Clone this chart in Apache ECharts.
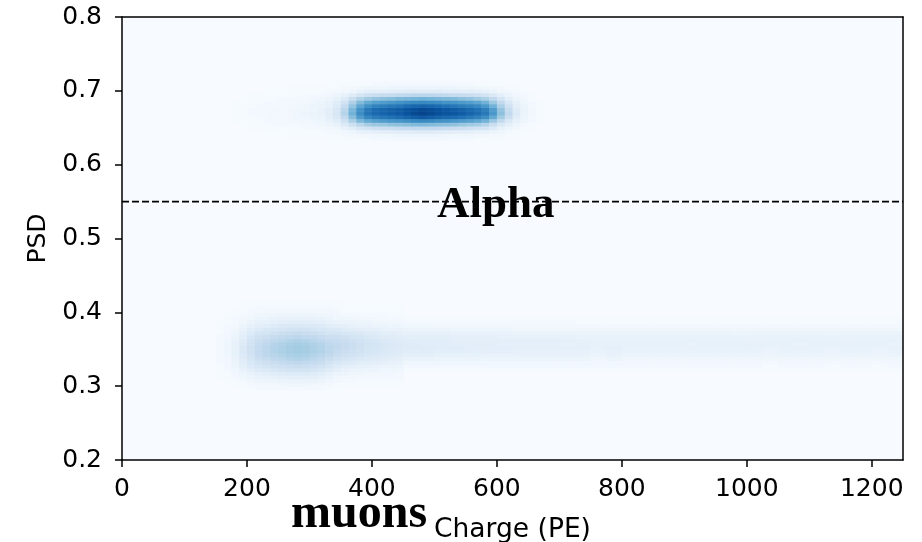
<!DOCTYPE html>
<html><head><meta charset="utf-8">
<script src="https://cdn.jsdelivr.net/npm/echarts@6/dist/echarts.min.js"></script>
<style>html,body{margin:0;padding:0;background:#fff}#c{width:922px;height:542px}</style>
</head><body><div id="c"></div>
<script>
// ---- axis ticks ----
const xTicks = [0, 200, 400, 600, 800, 1000, 1200];
const yTicks = [0.2, 0.3, 0.4, 0.5, 0.6, 0.7, 0.8];
const cutPSD = [0.55, 0.55];
const cutCharge = [0, 1250];

// ---- 2D histogram: alpha blob (x bins from 175 PE, 12.5 PE wide; y bins from 0.6325, 0.005 tall) ----
const alphaX0 = 175, alphaDX = 12.5, alphaY0 = 0.6325, alphaDY = 0.005;
const alphaRows = [
 [0,0,0,0,0,0,0,0,0,0,0,0,1,1,1,1,1,1,2,2,2,2,2,2,2,2,2,2,2,2,2,1,1,1,1,0,0,0,0,0],
 [0,0,0,0,0,0,0,1,1,1,1,1,1,1,2,2,3,3,4,4,4,5,5,5,5,5,5,4,4,4,4,3,3,2,2,1,1,0,0,0],
 [0,0,0,0,1,1,1,1,1,1,1,1,2,2,3,5,7,8,9,10,10,11,11,12,12,12,11,11,10,10,9,8,7,5,4,2,1,1,0,0],
 [0,0,1,1,1,1,1,1,1,2,2,2,3,4,7,11,16,19,21,22,23,24,25,26,26,26,25,24,23,22,21,19,17,13,8,5,3,1,1,0],
 [0,1,1,1,1,2,2,2,2,3,3,4,5,8,13,21,29,35,38,39,41,42,43,44,45,44,43,42,41,39,37,35,30,23,15,9,5,2,1,0],
 [1,1,1,1,2,2,2,3,3,3,4,5,7,11,20,33,45,52,56,58,60,61,63,65,66,65,63,62,60,58,56,53,48,38,26,15,8,4,2,1],
 [1,1,1,2,2,3,3,3,4,4,5,6,9,14,26,43,58,67,71,73,75,77,80,82,84,82,80,78,77,75,72,69,64,52,36,22,11,5,2,1],
 [1,1,2,2,2,3,3,3,4,5,6,7,10,16,30,48,64,74,78,80,82,84,87,90,92,90,88,86,85,83,80,77,72,60,42,26,13,6,3,1],
 [1,1,2,2,2,3,3,3,4,4,5,7,10,15,28,46,62,72,77,79,81,83,86,88,90,89,87,85,83,81,78,75,70,58,40,24,12,6,3,1],
 [1,1,1,2,2,2,3,3,3,4,5,6,8,13,24,40,54,63,68,70,72,74,77,79,80,79,77,75,73,71,69,66,60,48,33,20,10,5,2,1],
 [1,1,1,1,2,2,2,2,3,3,4,5,7,11,19,32,44,52,56,58,60,62,64,65,66,65,64,62,61,59,57,54,48,38,26,15,8,4,2,1],
 [0,1,1,1,1,1,2,2,2,2,3,4,5,8,13,22,31,37,40,42,43,45,46,47,48,47,46,45,44,42,40,37,33,26,17,10,5,3,1,0],
 [0,0,1,1,1,1,1,1,1,2,2,2,3,5,8,12,17,21,23,24,25,26,27,28,28,28,27,26,25,24,23,21,18,14,9,6,3,2,1,0],
 [0,0,0,0,1,1,1,1,1,1,1,1,2,2,3,5,7,9,10,10,11,11,12,12,12,12,12,11,11,10,10,9,8,6,4,3,2,1,0,0],
 [0,0,0,0,0,0,0,1,1,1,1,1,1,1,2,2,3,4,4,4,5,5,5,5,5,5,5,5,5,4,4,4,3,3,2,1,1,0,0,0],
 [0,0,0,0,0,0,0,0,0,0,0,0,1,1,1,1,1,1,2,2,2,2,2,2,2,2,2,2,2,2,2,1,1,1,1,0,0,0,0,0]
];

// ---- muon band core (x bins from 150 PE, 12.5 PE wide; y bins from 0.295, 0.005 tall) ----
const muonX0 = 150, muonDX = 12.5, muonY0 = 0.295, muonDY = 0.005;
const muonRows = [
 [0,0,0,1,1,2,2,2,2,2,2,2,2,2,1,1,0,0,0,0,0,0,0,0],
 [0,0,1,1,2,3,3,3,3,4,4,4,3,3,2,1,1,1,1,1,1,1,1,1],
 [0,1,1,2,3,4,5,5,6,6,6,6,6,5,4,3,2,2,1,1,1,1,1,1],
 [1,1,2,4,5,7,7,8,9,9,9,9,9,8,6,4,3,3,2,2,2,2,2,2],
 [1,1,3,5,7,9,10,11,12,13,13,13,12,11,8,6,5,4,4,3,3,3,3,2],
 [1,2,4,7,10,13,14,16,17,18,18,18,17,15,12,9,7,6,6,5,5,4,4,4],
 [1,3,5,9,13,16,18,20,21,22,23,22,21,19,16,12,10,9,8,8,7,6,6,5],
 [2,3,6,11,15,19,21,23,25,26,27,26,25,23,19,16,14,13,11,10,10,9,8,7],
 [2,3,7,12,17,22,24,27,28,30,31,30,28,26,23,20,17,16,14,13,12,11,10,9],
 [2,4,8,13,19,24,27,29,31,33,34,33,31,29,26,23,20,19,17,15,14,13,12,11],
 [2,4,8,14,20,25,28,31,33,35,36,35,33,31,28,25,23,21,19,17,16,14,13,12],
 [2,4,8,14,20,25,28,31,33,35,36,35,33,31,28,26,24,22,20,18,17,15,14,13],
 [2,4,8,13,19,24,27,30,32,34,35,34,32,30,27,26,24,22,20,18,17,15,14,13],
 [2,4,7,12,18,22,25,27,29,31,32,31,29,27,25,24,23,21,19,17,16,14,13,12],
 [2,3,6,11,16,20,22,24,26,27,28,27,26,24,22,22,20,18,17,15,14,12,12,11],
 [1,3,5,9,13,17,18,20,22,23,24,23,22,20,18,18,16,15,14,12,12,10,10,9],
 [1,2,4,7,11,13,15,16,17,19,19,19,17,16,15,14,12,11,10,9,9,8,7,7],
 [1,2,3,6,8,10,11,13,14,14,15,14,14,13,11,10,9,8,7,7,6,6,5,5],
 [1,1,2,4,6,8,8,9,10,11,11,11,10,9,8,7,6,6,5,5,4,4,4,3],
 [0,1,2,3,4,5,6,7,7,7,8,7,7,7,6,4,4,4,3,3,3,2,2,2],
 [0,1,1,2,3,4,4,4,5,5,5,5,5,4,4,3,2,2,2,2,2,2,1,1],
 [0,0,1,1,2,2,3,3,3,3,3,3,3,3,3,2,1,1,1,1,1,1,1,1],
 [0,0,0,1,1,2,2,2,2,2,2,2,2,2,2,1,1,1,1,1,1,1,1,1],
 [0,0,0,1,1,1,1,1,1,1,1,1,1,1,1,1,0,0,0,0,0,0,0,0]
];

// ---- muon band tail (x bins from 450 PE, 25 PE wide; y bins from 0.320, 0.005 tall) ----
const tailX0 = 450, tailDX = 25, tailY0 = 0.320, tailDY = 0.005;
const tailRows = [
 [1,1,1,1,1,1,1,1,1,1,1,1,1,1,1,1,1,1,1,1,1,1,1,1,1,1,1,1,1,1,1,1],
 [2,2,2,2,2,2,2,2,2,2,2,2,2,2,2,2,2,2,2,2,2,2,2,1,2,2,2,1,2,2,1,2],
 [4,4,4,4,4,3,3,3,3,3,3,3,3,3,3,3,3,3,3,3,3,3,3,2,3,3,3,2,3,3,2,3],
 [7,7,6,6,6,5,5,5,5,5,5,5,4,5,4,4,4,4,4,4,4,4,4,4,4,4,4,4,4,4,4,4],
 [9,9,8,8,8,7,7,7,7,7,7,7,6,7,6,6,6,6,6,6,6,6,6,5,6,6,6,5,6,6,5,6],
 [11,11,10,10,9,9,9,8,8,8,8,8,7,8,7,7,7,7,7,7,7,7,7,6,7,7,7,6,7,7,6,7],
 [12,12,11,11,10,10,10,9,9,9,9,9,8,9,8,8,8,8,8,8,8,8,8,7,8,8,8,7,8,8,7,8],
 [12,11,11,10,10,10,9,9,9,9,8,9,8,8,8,8,8,8,7,8,8,8,8,8,8,7,8,8,8,8,8,7],
 [11,11,11,10,10,10,9,9,9,9,9,8,8,8,8,8,8,8,8,8,8,8,7,8,8,8,8,8,7,8,8,8],
 [10,10,10,9,9,9,8,8,8,8,8,7,7,7,7,7,7,7,7,7,7,7,7,7,7,7,7,7,7,7,7,7],
 [8,8,8,7,7,7,7,6,6,6,6,6,6,6,6,6,6,6,6,6,6,5,6,6,6,6,6,5,6,6,6,6],
 [6,6,6,5,5,5,5,4,4,4,4,4,4,4,4,4,4,4,4,4,4,4,4,4,4,4,4,4,4,4,4,4],
 [4,4,3,3,3,3,3,3,3,3,3,2,2,2,2,2,2,2,2,2,2,2,2,2,2,2,2,2,2,2,2,2],
 [2,2,2,2,2,2,2,2,2,2,2,1,1,1,1,1,1,1,1,1,1,1,1,1,1,1,1,1,1,1,1,1],
 [1,1,1,1,1,1,1,1,1,1,1,1,1,1,1,1,1,1,1,1,1,1,1,1,1,1,1,1,1,1,1,1]
];

const BLUES = ['#f7fbff','#deebf7','#c6dbef','#9ecae1','#6baed6','#4292c6','#2171b5','#08519c','#08306b'];

function cells(x0, dx, y0, dy, rows) {
  const out = [];
  rows.forEach((row, r) => row.forEach((v, c) => {
    if (v > 0) out.push([x0 + c * dx, y0 + r * dy, x0 + (c + 1) * dx, y0 + (r + 1) * dy, v]);
  }));
  return out;
}

function renderCell(params, api) {
  const a = api.coord([api.value(0), api.value(1)]);
  const b = api.coord([api.value(2), api.value(3)]);
  return {
    type: 'rect',
    shape: { x: Math.min(a[0], b[0]), y: Math.min(a[1], b[1]),
             width: Math.abs(b[0] - a[0]) + 0.6, height: Math.abs(b[1] - a[1]) + 0.6 },
    style: { fill: api.visual('color') }
  };
}

const chart = echarts.init(document.getElementById('c'), null, { renderer: 'canvas' });
const labelFont = 'DejaVu Sans';
const spine = { show: true, onZero: false, lineStyle: { color: '#000', width: 1.5 } };
const heat = (data) => ({
  type: 'custom', renderItem: renderCell, data: data, clip: true, silent: true,
  encode: { x: [0, 2], y: [1, 3] }, z: 1
});

chart.setOption({
  animation: false,
  backgroundColor: '#ffffff',
  grid: { left: 122, top: 17, width: 781, height: 443, show: true, outerBoundsMode: 'none',
          containLabel: false, backgroundColor: '#f7fbff', borderWidth: 0 },
  xAxis: [{
    type: 'value', min: 0, max: 1250, interval: 200, z: 10,
    name: 'Charge (PE)', nameLocation: 'middle', nameGap: 57,
    nameTextStyle: { fontFamily: labelFont, fontSize: 26.5, color: '#000' },
    axisLine: spine,
    axisTick: { show: true, length: 7, lineStyle: { color: '#000', width: 1.5 }, customValues: xTicks },
    axisLabel: { fontFamily: labelFont, fontSize: 25, color: '#000', margin: 17, customValues: xTicks,
                 formatter: v => String(v) },
    splitLine: { show: false }
  }, {
    type: 'value', position: 'top', min: 0, max: 1250, z: 10,
    axisLine: spine, axisTick: { show: false }, axisLabel: { show: false }, splitLine: { show: false }
  }],
  yAxis: [{
    type: 'value', min: 0.2, max: 0.8, interval: 0.1, z: 10,
    name: 'PSD', nameLocation: 'middle', nameGap: 71,
    nameTextStyle: { fontFamily: labelFont, fontSize: 25, color: '#000' },
    axisLine: spine,
    axisTick: { show: true, length: 7, lineStyle: { color: '#000', width: 1.5 }, customValues: yTicks },
    axisLabel: { fontFamily: labelFont, fontSize: 25, color: '#000', margin: 20, customValues: yTicks,
                 formatter: v => v.toFixed(1) },
    splitLine: { show: false }
  }, {
    type: 'value', position: 'right', min: 0.2, max: 0.8, z: 10,
    axisLine: spine, axisTick: { show: false }, axisLabel: { show: false }, splitLine: { show: false }
  }],
  visualMap: {
    type: 'continuous', show: false, min: 0, max: 100, dimension: 4,
    seriesIndex: [0, 1, 2], inRange: { color: BLUES }
  },
  series: [
    heat(cells(alphaX0, alphaDX, alphaY0, alphaDY, alphaRows)),
    heat(cells(muonX0, muonDX, muonY0, muonDY, muonRows)),
    heat(cells(tailX0, tailDX, tailY0, tailDY, tailRows)),
    {
      type: 'line', data: cutCharge.map((x, i) => [x, cutPSD[i]]), symbol: 'none', silent: true, z: 5,
      lineStyle: { color: '#000', width: 1.8, type: [7, 3] }
    }
  ],
  graphic: [
    { type: 'text', left: 437, top: 183, z: 100,
      style: { text: 'Alpha', font: 'bold 45px "Liberation Serif"', fill: '#000' } },
    { type: 'text', left: 291, top: 491, z: 100,
      style: { text: 'muons', font: 'bold 48px "Liberation Serif"', fill: '#000' } }
  ]
});
</script>
</body></html>
